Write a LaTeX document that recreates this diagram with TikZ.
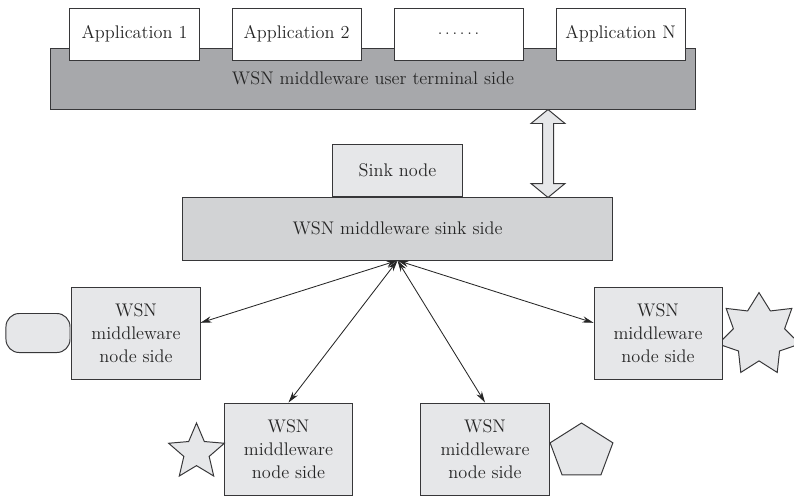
\documentclass[tikz,border=0pt]{standalone}
\usetikzlibrary{positioning,calc,shapes.geometric,arrows.meta}

\definecolor{termgray}{RGB}{167,168,171}
\definecolor{sinkgray}{RGB}{210,211,213}
\definecolor{nodegray}{RGB}{230,231,233}
\definecolor{edgegray}{RGB}{55,55,57}

\begin{document}
\begin{tikzpicture}[
    x=0.025cm, y=-0.025cm,
    font=\fontsize{13}{16.5}\selectfont,
    every node/.style={text=black!85},
    bar/.style={draw=edgegray, line width=0.7pt, rectangle, align=center},
    appbox/.style={draw=edgegray, line width=0.7pt, rectangle, fill=white, minimum width=3.225cm, minimum height=1.3cm},
    sidebox/.style={draw=edgegray, line width=0.7pt, rectangle, fill=nodegray, align=center, minimum width=3.2cm, minimum height=2.3cm},
    device/.style={draw=edgegray, line width=0.7pt, fill=nodegray, inner sep=0pt},
    link/.style={<->, line width=0.6pt, >={Stealth[length=8pt,width=4.5pt]}, draw=black!85},
    wide/.style={draw=edgegray, line width=0.7pt, fill=nodegray}
]
    \useasboundingbox (0,0) rectangle (794,496);

    % user terminal side
    \node[bar, fill=termgray, minimum width=16.1cm, minimum height=1.525cm] (userbar) at (373,78.5) {WSN middleware user terminal side};
    \node[appbox] (app1) at (134.5,34) {Application 1};
    \node[appbox, right=0.8cm of app1] (app2) {Application 2};
    \node[appbox, right=0.8cm of app2] (appdots) {$\ldots\ldots$};
    \node[appbox, right=0.8cm of appdots] (appN) {Application N};

    % sink side
    \node[bar, fill=sinkgray, minimum width=10.725cm, minimum height=1.575cm] (sinkbar) at (397.5,228.5) {WSN middleware sink side};
    \node[appbox, fill=nodegray, above=0pt of sinkbar] (sink) {Sink node};

    \coordinate (linktop) at ($(userbar.south)+(175,0)$);
    \draw[wide] (linktop) -- ++(17,14) -- ++(-11.5,0) -- ++(0,60) -- ++(11.5,0) -- ++(-17,14)
        -- ++(-17,-14) -- ++(11.5,0) -- ++(0,-60) -- ++(-11.5,0) -- cycle;

    % node side
    \node[device, star, star points=7, star point ratio=1.6, minimum size=2.1cm] (dev4) at (759,334.6) {};
    \node[sidebox] (nodeL) at (136,333) {WSN\\middleware\\node side};
    \node[sidebox] (nodeR) at (658,333) {WSN\\middleware\\node side};
    \node[sidebox] (nodeBL) at (288.5,449) {WSN\\middleware\\node side};
    \node[sidebox] (nodeBR) at (485,449) {WSN\\middleware\\node side};

    \node[device, rectangle, rounded corners=0.33cm, minimum width=1.6cm, minimum height=0.975cm, left=0.025cm of nodeL] (dev1) {};
    \node[device, star, star points=5, star point ratio=2.2, minimum size=1.465cm] (dev2) at (196.5,452.3) {};
    \node[device, regular polygon, regular polygon sides=5, minimum size=1.435cm, xscale=1.15] (dev3) at (581.5,451.7) {};

    \coordinate (hub) at (sinkbar.south);
    \draw[link] (hub) -- (nodeL.9);
    \draw[link] (hub) -- (nodeR.171);
    \draw[link] (hub) -- (nodeBL.north);
    \draw[link] (hub) -- (nodeBR.north);
\end{tikzpicture}
\end{document}
